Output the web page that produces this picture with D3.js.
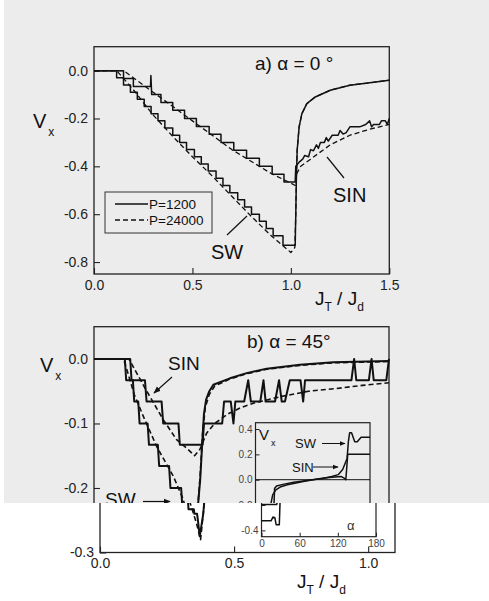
<!DOCTYPE html>
<html>
<head>
<meta charset="utf-8">
<script src="https://cdn.jsdelivr.net/npm/d3@7"></script>
<style>
  body { margin: 0; background: #fff; }
  svg { display: block; font-family: "Liberation Sans", Arial, sans-serif; }
</style>
</head>
<body>
<div id="chart"></div>
<script>
// ---- panel a) alpha = 0 ----
const aSwSolid = [[0,0],[0.115,0],[0.115,-0.03],[0.15,-0.03],[0.15,-0.06],[0.185,-0.06],[0.185,-0.09],[0.22,-0.09],[0.22,-0.12],
  [0.255,-0.12],[0.255,-0.15],[0.29,-0.15],[0.29,-0.18],[0.325,-0.18],[0.325,-0.21],[0.36,-0.21],[0.36,-0.24],[0.4,-0.24],[0.4,-0.27],
  [0.435,-0.27],[0.435,-0.3],[0.47,-0.3],[0.47,-0.33],[0.51,-0.33],[0.51,-0.36],[0.545,-0.36],[0.545,-0.39],[0.58,-0.39],[0.58,-0.42],
  [0.62,-0.42],[0.62,-0.45],[0.655,-0.45],[0.655,-0.48],[0.69,-0.48],[0.69,-0.51],[0.73,-0.51],[0.73,-0.54],[0.765,-0.54],[0.765,-0.57],
  [0.8,-0.57],[0.8,-0.6],[0.84,-0.6],[0.84,-0.63],[0.875,-0.63],[0.875,-0.66],[0.91,-0.66],[0.91,-0.69],[0.96,-0.69],[0.96,-0.73],
  [1.022,-0.73],[1.025,-0.6],[1.028,-0.45],[1.032,-0.333],[1.042,-0.235],[1.056,-0.18],[1.081,-0.138],[1.124,-0.11],[1.2,-0.082],
  [1.3,-0.061],[1.39,-0.052],[1.5,-0.04]];
const aSwDashed = [[0,0],[0.115,0],[0.2,-0.08],[0.3,-0.185],[0.4,-0.275],[0.5,-0.36],[0.6,-0.44],[0.7,-0.525],[0.8,-0.61],
  [0.9,-0.69],[1.0,-0.76],[1.02,-0.74],[1.025,-0.6],[1.028,-0.45],[1.032,-0.333],[1.042,-0.235],[1.056,-0.18],[1.081,-0.138],
  [1.124,-0.11],[1.2,-0.082],[1.3,-0.061],[1.39,-0.052],[1.5,-0.04]];
const aSinSolid = [[0,0],[0.15,0],[0.15,-0.033],[0.2,-0.033],[0.2,-0.066],[0.287,-0.066],[0.289,-0.02],[0.293,-0.1],[0.34,-0.1],
  [0.34,-0.133],[0.4,-0.133],[0.4,-0.166],[0.46,-0.166],[0.46,-0.2],[0.52,-0.2],[0.52,-0.233],[0.585,-0.233],[0.585,-0.266],
  [0.645,-0.266],[0.645,-0.3],[0.71,-0.3],[0.71,-0.333],[0.775,-0.333],[0.775,-0.366],[0.84,-0.366],[0.84,-0.4],[0.905,-0.4],
  [0.905,-0.433],[0.965,-0.433],[0.965,-0.465],[1.022,-0.465],[1.025,-0.4],[1.045,-0.38],[1.06,-0.37],[1.07,-0.355],[1.09,-0.36],
  [1.1,-0.33],[1.115,-0.335],[1.13,-0.31],[1.14,-0.325],[1.15,-0.3],[1.17,-0.3],[1.18,-0.28],[1.19,-0.295],[1.21,-0.27],
  [1.24,-0.27],[1.25,-0.25],[1.265,-0.265],[1.28,-0.26],[1.3,-0.235],[1.35,-0.235],[1.38,-0.225],[1.4,-0.21],[1.41,-0.235],
  [1.42,-0.225],[1.45,-0.225],[1.46,-0.21],[1.48,-0.21],[1.49,-0.225],[1.5,-0.2]];
const aSinDashed = [[0,0],[0.15,0],[0.3,-0.09],[0.5,-0.21],[0.7,-0.33],[0.9,-0.43],[1.0,-0.47],[1.022,-0.48],[1.03,-0.43],
  [1.05,-0.4],[1.1,-0.37],[1.2,-0.31],[1.3,-0.27],[1.4,-0.245],[1.5,-0.225]];
const aXTicks = [0, 0.5, 1.0, 1.5];
const aYTicks = [0, -0.2, -0.4, -0.6, -0.8];
const legendLabels = ["P=1200", "P=24000"];

// ---- panel b) alpha = 45 ----
const bSinSolid = [[0,0],[0.135,0],[0.14,-0.033],[0.19,-0.033],[0.196,-0.066],[0.252,-0.066],[0.258,-0.1],[0.315,-0.1],
  [0.32,-0.133],[0.405,-0.133],[0.41,-0.1],[0.478,-0.1],[0.485,-0.066],[0.51,-0.066],[0.52,-0.1],[0.527,-0.066],[0.56,-0.066],
  [0.575,-0.033],[0.585,-0.066],[0.62,-0.066],[0.632,-0.033],[0.64,-0.066],[0.675,-0.066],[0.69,-0.033],[0.7,-0.066],
  [0.712,-0.066],[0.73,-0.033],[0.77,-0.033],[0.78,-0.066],[0.787,-0.033],[0.96,-0.033],[0.97,0],[0.978,-0.033],[1.025,-0.033],
  [1.035,0],[1.043,-0.033],[1.09,-0.033],[1.1,0]];
const bSinDashed = [[0,0],[0.13,0],[0.19,-0.045],[0.258,-0.094],[0.308,-0.125],[0.35,-0.14],[0.375,-0.15],[0.395,-0.14],
  [0.42,-0.115],[0.45,-0.1],[0.5,-0.085],[0.55,-0.075],[0.6,-0.068],[0.7,-0.058],[0.8,-0.05],[0.9,-0.046],[1.0,-0.041],[1.1,-0.037]];
const bSwSolid = [[0,0],[0.115,0],[0.12,-0.033],[0.145,-0.033],[0.15,-0.066],[0.165,-0.066],[0.17,-0.1],[0.2,-0.1],
  [0.205,-0.133],[0.238,-0.133],[0.243,-0.166],[0.28,-0.166],[0.285,-0.2],[0.325,-0.2],[0.33,-0.233],[0.35,-0.233],
  [0.352,-0.24],[0.362,-0.24],[0.365,-0.25],[0.372,-0.275],[0.385,-0.24],[0.396,-0.187],[0.405,-0.12],[0.41,-0.085],
  [0.418,-0.063],[0.43,-0.05],[0.445,-0.04],[0.507,-0.03],[0.569,-0.022],[0.644,-0.015],[0.768,-0.009],[0.892,-0.005],[1.1,-0.003]];
const bSwDashed = [[0,0],[0.11,0],[0.125,-0.02],[0.15,-0.055],[0.184,-0.089],[0.234,-0.136],[0.296,-0.182],[0.33,-0.215],
  [0.36,-0.255],[0.375,-0.28],[0.385,-0.24],[0.396,-0.18],[0.405,-0.115],[0.415,-0.075],[0.43,-0.055],[0.45,-0.042],
  [0.507,-0.031],[0.569,-0.023],[0.644,-0.016],[0.768,-0.01],[0.892,-0.006],[1.1,-0.004]];
const bXTicks = [0, 0.5, 1.0];
const bYTicks = [0, -0.1, -0.2, -0.3];

// ---- inset: Vx vs alpha ----
const insetSw = [[0,-0.325],[15,-0.325],[18,-0.295],[21,-0.3],[23,-0.355],[28,-0.355],[29,-0.2],[30,-0.07],[33,-0.05],
  [45,-0.035],[60,-0.02],[75,-0.01],[90,0],[105,0.01],[120,0.025],[130,0.04],[137,0.08],[141,0.13],[144,0.17],[146,0.3],
  [148,0.37],[151,0.37],[156,0.3],[160,0.3],[166,0.335],[180,0.335]];
const insetSin = [[0,-0.195],[24,-0.195],[27,-0.12],[32,-0.08],[40,-0.055],[50,-0.04],[60,-0.03],[75,-0.015],[90,0],
  [105,0.012],[120,0.02],[135,0.025],[140,0.01],[142,0],[145,0.2],[180,0.2]];
const insetXTicks = [0, 60, 120, 180];
const insetYTicks = [-0.4, -0.2, 0, 0.2, 0.4];

const W = 489, H = 601;
const cut = 503; // the scan is split here, lower part shifted right
const ink = "#111";
const fmt = d => d.toFixed(1);

const svg = d3.select("#chart").append("svg").attr("width", W).attr("height", H);
svg.append("rect").attr("width", W).attr("height", H).attr("fill", "#fff");
svg.append("rect").attr("x", 4).attr("y", 0).attr("width", W - 4).attr("height", cut).attr("fill", "#ececec");

const defs = svg.append("defs");
defs.append("clipPath").attr("id", "clipTop").append("rect").attr("x", 0).attr("y", 0).attr("width", W).attr("height", cut);
defs.append("clipPath").attr("id", "clipBot").append("rect").attr("x", 0).attr("y", cut).attr("width", W).attr("height", H - cut);
const mk = defs.append("marker").attr("id", "arr").attr("viewBox", "0 0 10 10").attr("refX", 9).attr("refY", 5)
  .attr("markerWidth", 6).attr("markerHeight", 6).attr("orient", "auto");
mk.append("path").attr("d", "M0,1L10,5L0,9Z").attr("fill", ink);

function axes(g, x, y, xt, xminor, yt, yminor, fs, pad) {
  const bx = g.append("g").attr("transform", `translate(0,${y.range()[0]})`);
  bx.call(d3.axisBottom(x).tickValues(xminor).tickSize(-3).tickFormat(""));
  bx.call(d3.axisBottom(x).tickValues(xt).tickSize(-6).tickPadding(pad).tickFormat(fmt));
  const ly = g.append("g").attr("transform", `translate(${x.range()[0]},0)`);
  ly.call(d3.axisLeft(y).tickValues(yminor).tickSize(-3).tickFormat(""));
  ly.call(d3.axisLeft(y).tickValues(yt).tickSize(-6).tickPadding(pad).tickFormat(fmt));
  g.selectAll(".domain").remove();
  g.selectAll(".tick line").attr("stroke", "#222").attr("stroke-width", 1.1);
  g.selectAll(".tick text").attr("font-size", fs).attr("fill", "#222").attr("font-family", "Liberation Sans, Arial, sans-serif");
  g.append("rect").attr("x", x.range()[0]).attr("y", y.range()[1])
    .attr("width", x.range()[1] - x.range()[0]).attr("height", y.range()[0] - y.range()[1])
    .attr("fill", "none").attr("stroke", "#222").attr("stroke-width", 1.3);
}

function curve(g, data, x, y, dashed, w) {
  g.append("path").datum(data)
    .attr("d", d3.line().x(d => x(d[0])).y(d => y(d[1])))
    .attr("fill", "none").attr("stroke", ink).attr("stroke-width", w)
    .attr("stroke-linejoin", "round")
    .attr("stroke-dasharray", dashed ? "5,3" : null);
}

function jLabel(g, x, y) {
  const t = g.append("text").attr("x", x).attr("y", y).attr("font-size", 19).attr("fill", ink);
  t.append("tspan").text("J");
  t.append("tspan").attr("font-size", 12).attr("dy", 6).text("T");
  t.append("tspan").attr("dy", -6).text(" / J");
  t.append("tspan").attr("font-size", 12).attr("dy", 6).text("d");
}
function vLabel(g, x, y, fs) {
  const t = g.append("text").attr("x", x).attr("y", y).attr("font-size", fs).attr("fill", ink);
  t.append("tspan").text("V");
  t.append("tspan").attr("font-size", fs * 0.6).attr("dx", 2).attr("dy", fs * 0.4).text("x");
}

// ================= panel a =================
const xA = d3.scaleLinear().domain([0, 1.5]).range([94, 389.3]);
const yA = d3.scaleLinear().domain([-0.85, 0.1]).range([274, 46.7]);
const gA = svg.append("g");
axes(gA, xA, yA, aXTicks, d3.range(0, 1.51, 0.1), aYTicks, d3.range(-0.8, 0.01, 0.1), 14, 6);
curve(gA, aSwDashed, xA, yA, true, 1.3);
curve(gA, aSinDashed, xA, yA, true, 1.3);
curve(gA, aSwSolid, xA, yA, false, 1.5);
curve(gA, aSinSolid, xA, yA, false, 1.5);
gA.append("text").attr("x", 255).attr("y", 70).attr("font-size", 19).attr("fill", ink).text("a) α = 0 °");
vLabel(gA, 33, 128, 20);
jLabel(gA, 315, 305);
gA.append("text").attr("x", 333).attr("y", 202).attr("font-size", 20).attr("fill", ink).text("SIN");
gA.append("line").attr("x1", 344).attr("y1", 178).attr("x2", 327).attr("y2", 157).attr("stroke", ink).attr("stroke-width", 1.2);
gA.append("text").attr("x", 211).attr("y", 259).attr("font-size", 20).attr("fill", ink).text("SW");
gA.append("line").attr("x1", 227).attr("y1", 235).attr("x2", 247).attr("y2", 216).attr("stroke", ink).attr("stroke-width", 1.2);
// legend
const lg = gA.append("g");
lg.append("rect").attr("x", 105).attr("y", 192).attr("width", 107).attr("height", 41)
  .attr("fill", "none").attr("stroke", "#333").attr("stroke-width", 1);
legendLabels.forEach((lab, i) => {
  const yy = 204 + i * 16;
  lg.append("line").attr("x1", 115).attr("x2", 148).attr("y1", yy).attr("y2", yy)
    .attr("stroke", ink).attr("stroke-width", 1.3).attr("stroke-dasharray", i ? "5,3" : null);
  lg.append("text").attr("x", 149).attr("y", yy + 5).attr("font-size", 13.5).attr("fill", ink).text(lab);
});

// ================= panel b (drawn twice: the scan is split and shifted below the cut) =================
const xB = d3.scaleLinear().domain([0, 1.1]).range([94, 389]);
const yB = d3.scaleLinear().domain([-0.3, 0.05]).range([552.5, 326.7]);
const xI = d3.scaleLinear().domain([0, 180]).range([255.5, 370]);
const yI = d3.scaleLinear().domain([-0.45, 0.45]).range([536.7, 422.7]);

function drawB(g, upper) {
  axes(g, xB, yB, bXTicks, d3.range(0, 1.11, 0.1), bYTicks, d3.range(-0.3, 0.051, 0.05), 14, 6);
  curve(g, bSinDashed, xB, yB, true, 1.6);
  curve(g, bSwDashed, xB, yB, true, 1.6);
  curve(g, bSinSolid, xB, yB, false, 2);
  curve(g, bSwSolid, xB, yB, false, 2);
  g.append("text").attr("x", 247).attr("y", 348).attr("font-size", 19).attr("fill", ink).text("b) α = 45°");
  vLabel(g, 40, 372, 20);
  jLabel(g, 291, 588);
  g.append("text").attr("x", 168).attr("y", 370).attr("font-size", 19).attr("fill", ink).text("SIN");
  g.append("line").attr("x1", 172).attr("y1", 377).attr("x2", 154).attr("y2", 393)
    .attr("stroke", ink).attr("stroke-width", 1.2).attr("marker-end", "url(#arr)");
  if (upper) {
    g.append("text").attr("x", 105).attr("y", 506).attr("font-size", 19).attr("fill", ink).text("SW");
    g.append("line").attr("x1", 143).attr("y1", 501.5).attr("x2", 170).attr("y2", 501.5)
      .attr("stroke", ink).attr("stroke-width", 1.2).attr("marker-end", "url(#arr)");
  }
  // inset
  const gi = g.append("g");
  const bx = gi.append("g").attr("transform", `translate(0,${yI.range()[0]})`);
  bx.call(d3.axisBottom(xI).tickValues(d3.range(0, 181, 10)).tickSize(-2).tickFormat(""));
  bx.call(d3.axisBottom(xI).tickValues(insetXTicks).tickSize(-4).tickPadding(3).tickFormat(d3.format("d")));
  const ly = gi.append("g").attr("transform", `translate(${xI.range()[0]},0)`);
  ly.call(d3.axisLeft(yI).tickValues(d3.range(-0.4, 0.41, 0.1)).tickSize(-2).tickFormat(""));
  ly.call(d3.axisLeft(yI).tickValues(insetYTicks).tickSize(-4).tickPadding(3).tickFormat(fmt));
  gi.selectAll(".domain").remove();
  gi.selectAll(".tick line").attr("stroke", "#222");
  gi.selectAll(".tick text").attr("font-size", 10).attr("fill", "#444").attr("font-family", "Liberation Sans, Arial, sans-serif");
  gi.append("rect").attr("x", xI.range()[0]).attr("y", yI.range()[1])
    .attr("width", xI.range()[1] - xI.range()[0]).attr("height", yI.range()[0] - yI.range()[1])
    .attr("fill", "none").attr("stroke", "#222").attr("stroke-width", 1.2);
  gi.append("line").attr("x1", xI(0)).attr("x2", xI(180)).attr("y1", yI(0)).attr("y2", yI(0)).attr("stroke", ink).attr("stroke-width", 1);
  curve(gi, insetSw, xI, yI, false, 1.5);
  curve(gi, insetSin, xI, yI, false, 1.5);
  vLabel(gi, 259, 440, 15);
  gi.append("text").attr("x", 295).attr("y", 448).attr("font-size", 13).attr("fill", ink).text("SW");
  gi.append("line").attr("x1", 322).attr("y1", 443.5).attr("x2", 345).attr("y2", 443.5)
    .attr("stroke", ink).attr("stroke-width", 1).attr("marker-end", "url(#arr)");
  gi.append("text").attr("x", 292).attr("y", 472).attr("font-size", 13).attr("fill", ink).text("SIN");
  gi.append("line").attr("x1", 313).attr("y1", 467).attr("x2", 338).attr("y2", 467)
    .attr("stroke", ink).attr("stroke-width", 1).attr("marker-end", "url(#arr)");
  gi.append("text").attr("x", 341).attr("y", 530).attr("font-size", 13).attr("fill", "#333").text("α");

  // each text is kept in one copy only: the one holding its top edge
  g.selectAll("text").each(function () {
    const b = this.getBoundingClientRect();
    if (upper ? b.top >= cut : b.top < cut) d3.select(this).remove();
  });
}

drawB(svg.append("g").attr("clip-path", "url(#clipTop)"), true);
drawB(svg.append("g").attr("clip-path", "url(#clipBot)").append("g").attr("transform", "translate(6,0)"), false);
</script>
</body>
</html>
